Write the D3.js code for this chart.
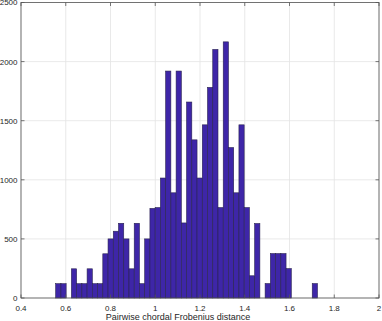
<!DOCTYPE html>
<html>
<head>
<meta charset="utf-8">
<script src="https://cdn.jsdelivr.net/npm/d3@7"></script>
<style>
  body { margin: 0; background: #fff; }
  text { font-family: "Liberation Sans", Arial, sans-serif; fill: #262626; }
</style>
</head>
<body>
<div id="chart"></div>
<script>
// histogram bins
const binStart = 0.555;
const binWidth = 0.0234;
const counts = [
  121, 121, 0, 247, 121, 121, 247, 121, 121, 374,
  500, 565, 632, 500, 247, 632, 121, 500, 758, 765,
  1015, 1920, 890, 1920, 635, 1658, 1338, 1015, 1465, 1782,
  2103, 765, 2167, 1273, 890, 1465, 765, 188, 630, 0,
  122, 376, 376, 376, 249, 0, 0, 0, 0, 122
];
const xTicks = [0.4, 0.6, 0.8, 1, 1.2, 1.4, 1.6, 1.8, 2];
const yTicks = [0, 500, 1000, 1500, 2000, 2500];
const xLabel = "Pairwise chordal Frobenius distance";

const W = 382, H = 321;
const margin = { top: 2.5, left: 21, right: 3, bottom: 23 };

const svg = d3.select("#chart").append("svg")
  .attr("width", W)
  .attr("height", H);

const x = d3.scaleLinear().domain([0.4, 2]).range([margin.left, W - margin.right]);
const y = d3.scaleLinear().domain([0, 2500]).range([H - margin.bottom, margin.top]);

const bins = counts.map((c, i) => ({
  x0: binStart + i * binWidth,
  x1: binStart + (i + 1) * binWidth,
  count: c
}));

// grid
svg.append("g")
  .selectAll("line.vg")
  .data(xTicks)
  .join("line")
  .attr("x1", d => x(d)).attr("x2", d => x(d))
  .attr("y1", y(0)).attr("y2", y(2500))
  .attr("stroke", "#e3e3e3").attr("stroke-width", 0.8);

svg.append("g")
  .selectAll("line.hg")
  .data(yTicks)
  .join("line")
  .attr("x1", x(0.4)).attr("x2", x(2))
  .attr("y1", d => y(d)).attr("y2", d => y(d))
  .attr("stroke", "#e3e3e3").attr("stroke-width", 0.8);

// bars
svg.append("g")
  .selectAll("rect")
  .data(bins.filter(d => d.count > 0))
  .join("rect")
  .attr("x", d => x(d.x0))
  .attr("y", d => y(d.count))
  .attr("width", d => x(d.x1) - x(d.x0))
  .attr("height", d => y(0) - y(d.count))
  .attr("fill", "#3e26a8")
  .attr("stroke", "#2a2350")
  .attr("stroke-width", 0.6);

// box
const axisColor = "#555";
svg.append("rect")
  .attr("x", x(0.4)).attr("y", y(2500))
  .attr("width", x(2) - x(0.4)).attr("height", y(0) - y(2500))
  .attr("fill", "none").attr("stroke", axisColor).attr("stroke-width", 0.8);

// ticks (inside, bottom/top and left/right)
const tl = 3.5;
const tg = svg.append("g").attr("stroke", axisColor).attr("stroke-width", 0.8);
xTicks.forEach(t => {
  tg.append("line").attr("x1", x(t)).attr("x2", x(t)).attr("y1", y(0)).attr("y2", y(0) - tl);
  tg.append("line").attr("x1", x(t)).attr("x2", x(t)).attr("y1", y(2500)).attr("y2", y(2500) + tl);
});
yTicks.forEach(t => {
  tg.append("line").attr("x1", x(0.4)).attr("x2", x(0.4) + tl).attr("y1", y(t)).attr("y2", y(t));
  tg.append("line").attr("x1", x(2)).attr("x2", x(2) - tl).attr("y1", y(t)).attr("y2", y(t));
});

// tick labels
svg.append("g")
  .selectAll("text")
  .data(xTicks)
  .join("text")
  .attr("x", d => x(d))
  .attr("y", 310.5)
  .attr("text-anchor", "middle")
  .attr("font-size", 8)
  .text(d => d3.format("")(d));

svg.append("g")
  .selectAll("text")
  .data(yTicks)
  .join("text")
  .attr("x", 17.5)
  .attr("y", d => y(d) + 2.9)
  .attr("text-anchor", "end")
  .attr("font-size", 8)
  .text(d => d);

// x label
svg.append("text")
  .attr("x", (x(0.4) + x(2)) / 2 - 22)
  .attr("y", 319.5)
  .attr("text-anchor", "middle")
  .attr("font-size", 9)
  .text(xLabel);
</script>
</body>
</html>
